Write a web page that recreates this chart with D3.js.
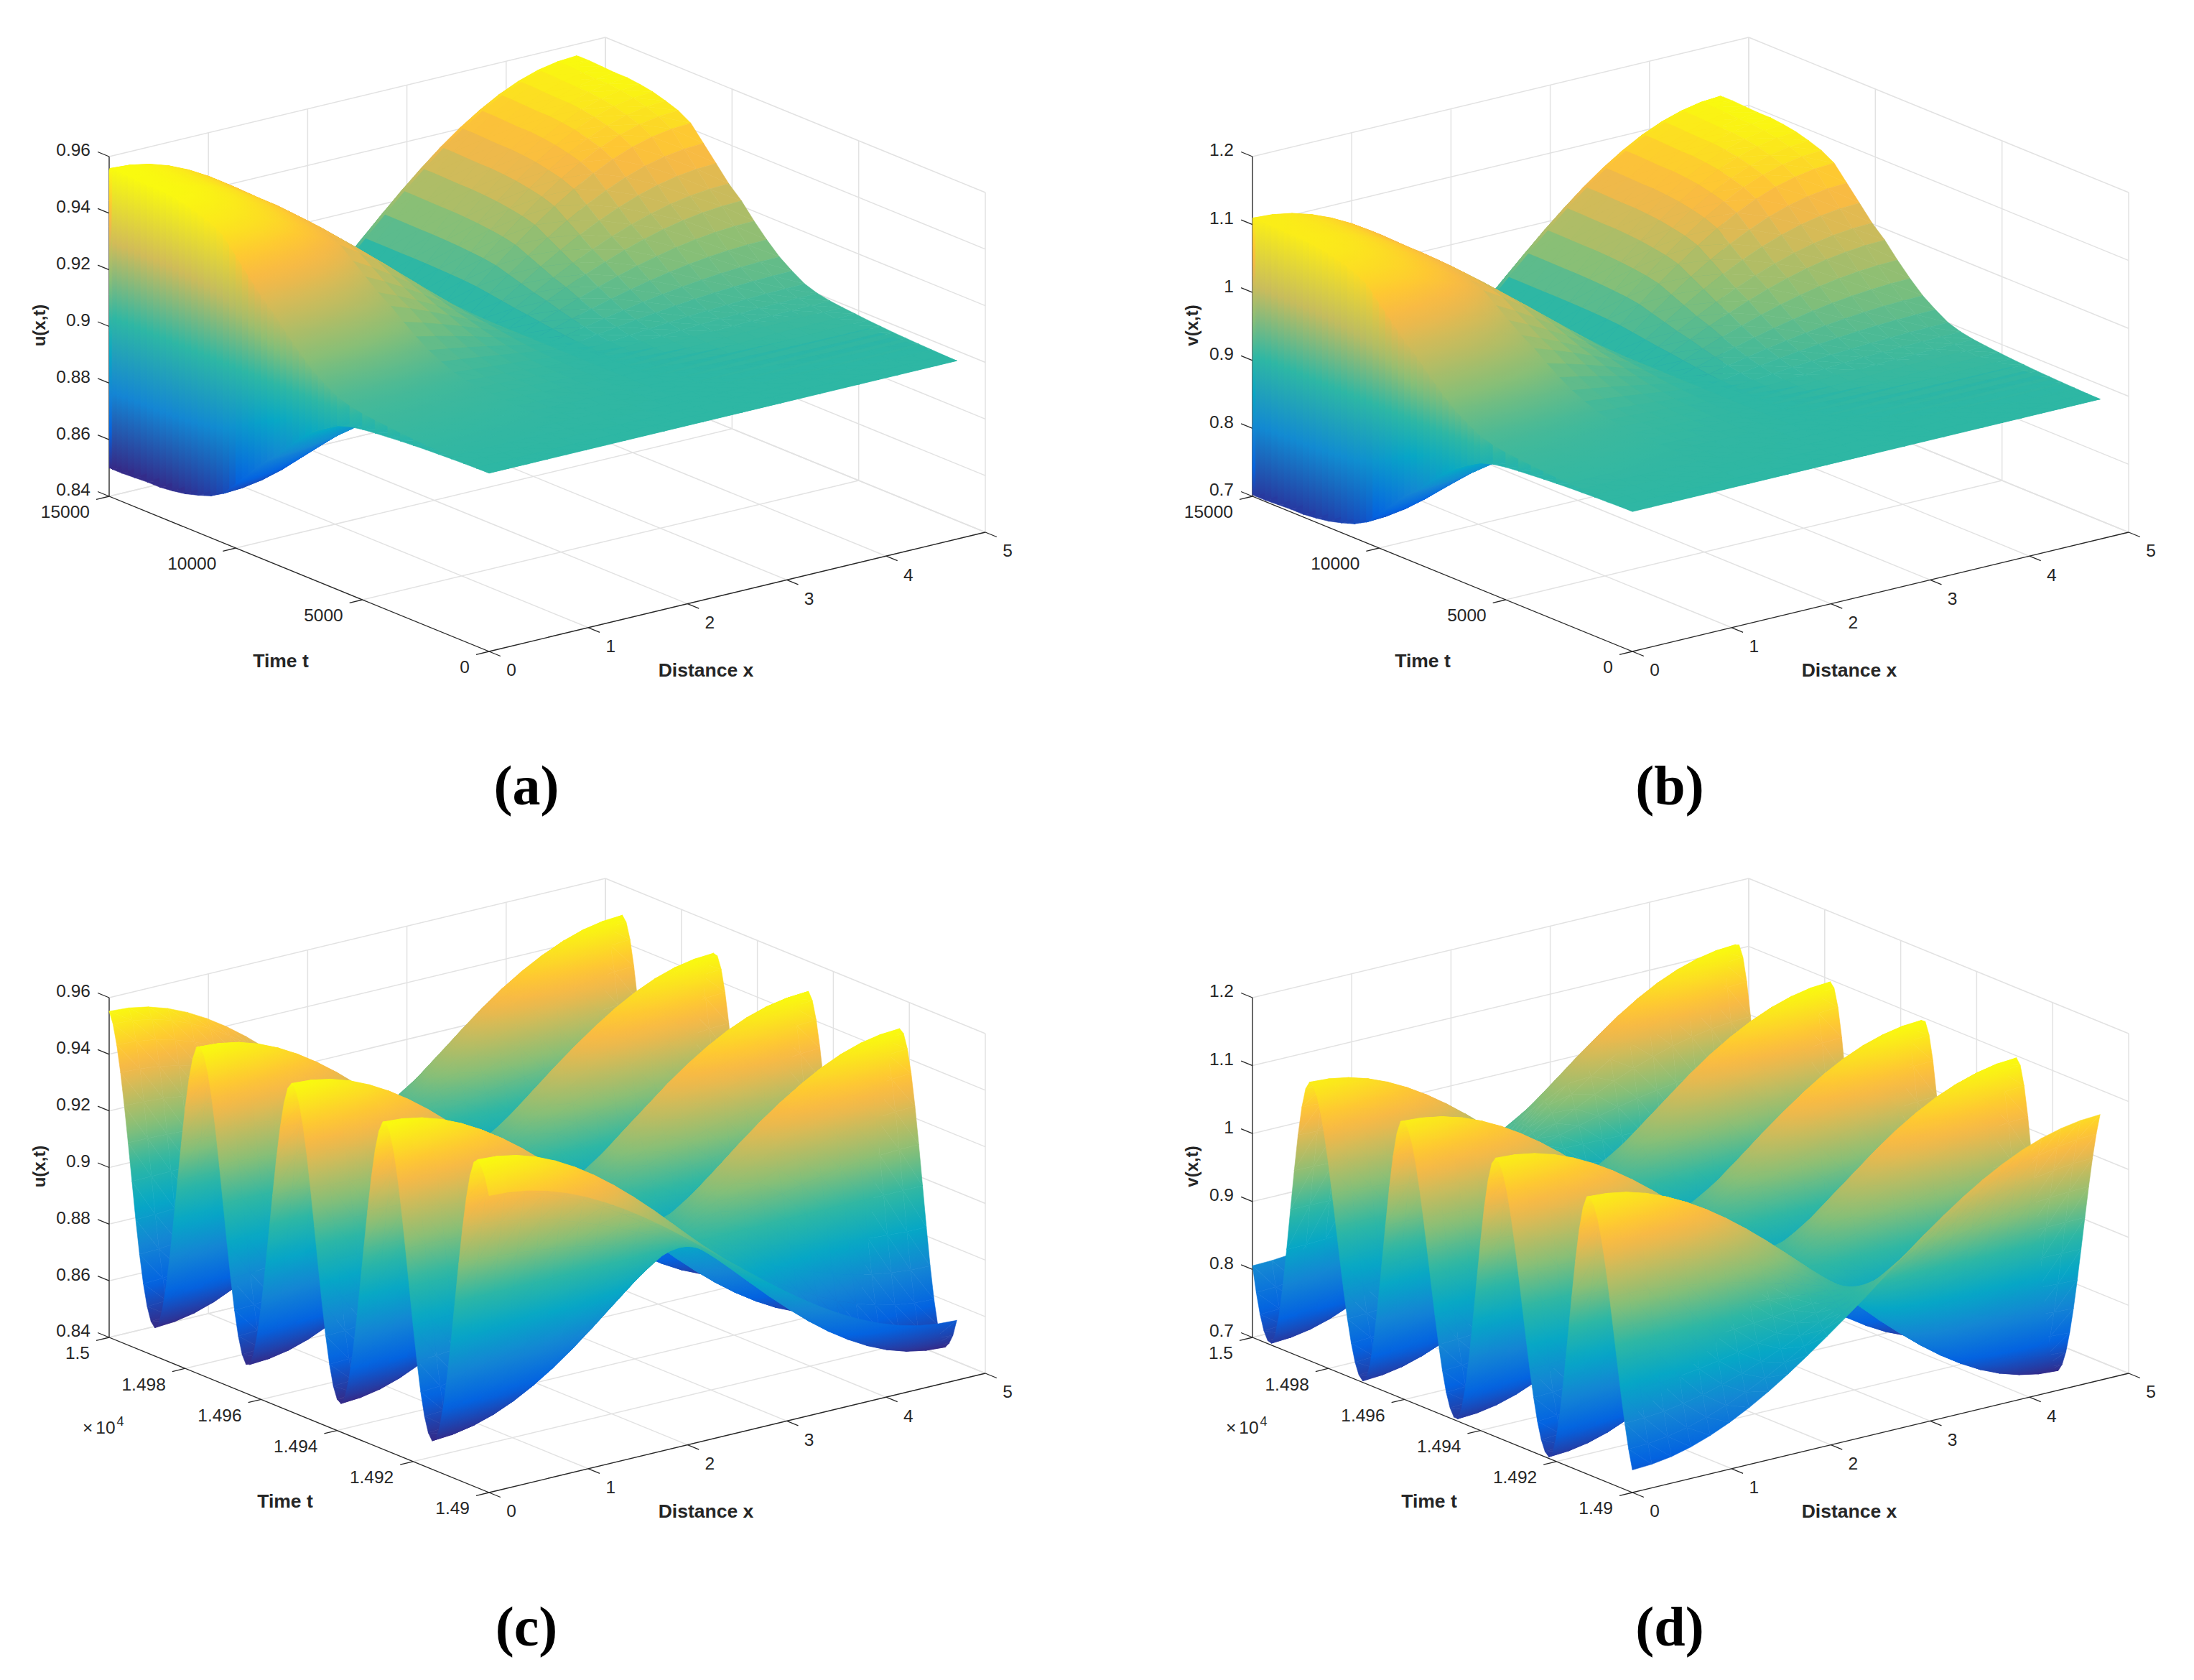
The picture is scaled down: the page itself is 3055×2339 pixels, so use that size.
<!DOCTYPE html>
<html>
<head>
<meta charset="utf-8">
<title>u(x,t) and v(x,t) surfaces</title>
<script src="https://cdnjs.cloudflare.com/ajax/libs/d3/7.8.5/d3.min.js"></script>
<style>
  body { margin: 0; background: #fff; }
  #wrap { position: relative; width: 3055px; height: 2339px; }
  #wrap svg, #wrap canvas { position: absolute; left: 0; top: 0; }
  text { font-family: "Liberation Sans", Arial, sans-serif; fill: #262626; }
</style>
</head>
<body>
<div id="wrap">
  <svg id="axes" width="3055" height="2339"></svg>
  <canvas id="surf" width="3055" height="2339"></canvas>
</div>
<script>
// spatial mesh, and the mode shapes read along a time slice
var meshX = [0, 0.196, 0.393, 0.589, 0.785, 0.982, 1.178, 1.374, 1.571, 1.767, 1.963, 2.16, 2.356,
  2.553, 2.749, 2.945, 3.142, 3.338, 3.534, 3.731, 3.927, 4.123, 4.32, 4.516, 4.712];
var modeU = [1, 0.991, 0.966, 0.924, 0.866, 0.793, 0.707, 0.609, 0.5, 0.383, 0.259, 0.131, 0,
  -0.131, -0.259, -0.383, -0.5, -0.609, -0.707, -0.793, -0.866, -0.924, -0.966, -0.991, -1];
var modeV = [1, 0.991, 0.966, 0.924, 0.866, 0.793, 0.707, 0.609, 0.5, 0.383, 0.259, 0.131, 0,
  -0.14, -0.277, -0.41, -0.535, -0.652, -0.757, -0.849, -0.927, -0.988, -1.032, -1.06, -1.07];

// coarse rows of the long run: the oscillation envelope, read at x=0 (both signs are plotted)
var timeCoarse = [0, 500, 1000, 1500, 2000, 2500, 3000, 3500, 4000, 4500, 5000, 5500, 6000, 6500, 7000,
  7500, 8000, 8500, 9000, 9500, 10000, 10500, 11000, 11500, 12000, 12500, 13000, 13500, 14000, 14500, 14880];
var swingCoarse = [0, -0.002, -0.005, -0.008, -0.012, -0.016, -0.022, -0.028, -0.036, -0.044, -0.054,
  -0.07, -0.098, -0.15, -0.21, -0.29, -0.38, -0.48, -0.56, -0.66, -0.76, -0.86, -0.91, -0.94,
  -0.965, -0.98, -0.99, -0.99, -0.995, -1, -1];

// envelope read between the coarse rows, for the dense low-to-high sheets
var timeSheet = [6250, 6750, 7250, 7750, 8250, 8750, 9250, 9750, 10250, 10750, 11250, 11750, 12250,
  12750, 13250, 13750, 14250, 14690];
var swingSheet = [-0.12, -0.18, -0.25, -0.33, -0.43, -0.52, -0.61, -0.71, -0.81, -0.885, -0.925, -0.95, -0.97,
  -0.985, -0.99, -0.99, -0.995, -1];

// fine rows at the end of the run, 14900..15000 every 1
var timeFine = d3.range(14900, 15001, 1);
var swingC = [0.79, 0.9, 0.963, 0.999, 0.971, 0.873, 0.711, 0.5, 0.252, -0.013,
  -0.278, -0.523, -0.731, -0.885, -0.977, -0.999, -0.956, -0.856, -0.703, -0.508,
  -0.281, -0.037, 0.209, 0.442, 0.648, 0.815, 0.932, 0.992, 0.991, 0.92,
  0.783, 0.59, 0.355, 0.094, -0.174, -0.43, -0.652, -0.83, -0.948, -0.999,
  -0.98, -0.903, -0.769, -0.59, -0.374, -0.136, 0.111, 0.351, 0.57, 0.754,
  0.892, 0.975, 1, 0.957, 0.845, 0.673, 0.453, 0.2, -0.067, -0.329,
  -0.569, -0.766, -0.909, -0.987, -0.995, -0.941, -0.829, -0.667, -0.464, -0.233,
  0.012, 0.257, 0.486, 0.685, 0.842, 0.949, 0.997, 0.982, 0.898, 0.749,
  0.546, 0.304, 0.04, -0.227, -0.478, -0.691, -0.859, -0.964, -1, -0.969,
  -0.879, -0.738, -0.552, -0.331, -0.085, 0.16, 0.396, 0.607, 0.781, 0.911, 0.985];
var swingD = [-0.847, -0.707, -0.532, -0.33, -0.112, 0.112, 0.33, 0.532, 0.707, 0.847,
  0.943, 0.994, 0.989, 0.9, 0.73, 0.495, 0.216, -0.082, -0.374, -0.632,
  -0.832, -0.96, -0.999, -0.972, -0.896, -0.775, -0.614, -0.424, -0.211, 0.011,
  0.233, 0.444, 0.632, 0.789, 0.906, 0.977, 1, 0.951, 0.816, 0.609,
  0.347, 0.053, -0.245, -0.521, -0.75, -0.913, -0.993, -0.991, -0.936, -0.835,
  -0.691, -0.513, -0.309, -0.09, 0.134, 0.351, 0.55, 0.722, 0.859, 0.951,
  0.996, 0.984, 0.887, 0.71, 0.469, 0.187, -0.112, -0.402, -0.655, -0.849,
  -0.968, -0.999, -0.967, -0.886, -0.76, -0.597, -0.404, -0.19, 0.034, 0.255,
  0.464, 0.65, 0.802, 0.916, 0.982, 0.999, 0.941, 0.798, 0.584, 0.317,
  0.023, -0.275, -0.546, -0.77, -0.925, -0.996, -0.988, -0.928, -0.822, -0.675, -0.493];

// steady state and swing size
var uLevel = 0.903, uSwing = 0.053;
var vLevel = 0.906, vSwing = 0.204;

// tick labels
var xTicks = [0, 1, 2, 3, 4, 5];
var uTicks = [0.84, 0.86, 0.88, 0.9, 0.92, 0.94, 0.96];
var uTickLabels = ["0.84", "0.86", "0.88", "0.9", "0.92", "0.94", "0.96"];
var vTicks = [0.7, 0.8, 0.9, 1, 1.1, 1.2];
var vTickLabels = ["0.7", "0.8", "0.9", "1", "1.1", "1.2"];
var longTicks = [0, 5000, 10000, 15000];
var longTickLabels = ["0", "5000", "10000", "15000"];
var shortTicks = [14900, 14920, 14940, 14960, 14980, 15000];
var shortTickLabels = ["1.49", "1.492", "1.494", "1.496", "1.498", "1.5"];

var parulaStops = [0, 0.125, 0.25, 0.375, 0.5, 0.625, 0.75, 0.79, 0.825, 0.875, 1];
var parula = ["#352a87", "#0363e1", "#1485d4", "#06a7c6", "#2eb7a4", "#87bf77", "#d1bb59", "#e9b94e", "#f8ba44", "#fec832", "#f9fb0e"];
var parulaScale = d3.scaleLinear().domain(parulaStops).range(parula).clamp(true);

var svg = d3.select("#axes");
var ctx = document.getElementById("surf").getContext("2d");

var panels = [
  { dx: 0, dy: 0, name: "u(x,t)", cap: "(a)", level: uLevel, size: uSwing, mode: modeU,
    coarseTimes: timeCoarse, coarseSwing: swingCoarse, times: timeFine, swing: swingC,
    zTicks: uTicks, zLabels: uTickLabels, tTicks: longTicks, tLabels: longTickLabels, timeX: 391, timeY: 922 },
  { dx: 1592, dy: 0, name: "v(x,t)", cap: "(b)", level: vLevel, size: vSwing, mode: modeV,
    coarseTimes: timeCoarse, coarseSwing: swingCoarse, times: timeFine, swing: swingD,
    zTicks: vTicks, zLabels: vTickLabels, tTicks: longTicks, tLabels: longTickLabels, timeX: 389, timeY: 922 },
  { dx: 0, dy: 1171, name: "u(x,t)", cap: "(c)", level: uLevel, size: uSwing, mode: modeU,
    coarseTimes: [], coarseSwing: [], times: timeFine, swing: swingC,
    zTicks: uTicks, zLabels: uTickLabels, tTicks: shortTicks, tLabels: shortTickLabels, timeX: 397, timeY: 921, power: true },
  { dx: 1592, dy: 1171, name: "v(x,t)", cap: "(d)", level: vLevel, size: vSwing, mode: modeV,
    coarseTimes: [], coarseSwing: [], times: timeFine, swing: swingD,
    zTicks: vTicks, zLabels: vTickLabels, tTicks: shortTicks, tLabels: shortTickLabels, timeX: 398, timeY: 921, power: true }
];

panels.forEach(drawPanel);

function drawPanel(p) {
  var zDom = d3.extent(p.zTicks);
  var allTimes = p.coarseTimes.concat(p.times);
  var tDom = d3.extent(allTimes);
  // oblique box: three edge vectors from the front floor corner
  var xFrac = d3.scaleLinear().domain([0, 5]).range([0, 1]);
  var tFrac = d3.scaleLinear().domain(tDom).range([0, 1]);
  var zFrac = d3.scaleLinear().domain(zDom).range([0, 1]);
  var ox = 681 + p.dx, oy = 907 + p.dy;

  function proj(x, t, z) {
    var a = xFrac(x), b = tFrac(t), c = zFrac(z);
    return [ox + a * 691 - b * 529, oy - a * 166 - b * 216 - c * 473];
  }

  var g = svg.append("g");

  function line(a, b, cls) {
    g.append("line")
      .attr("x1", a[0]).attr("y1", a[1]).attr("x2", b[0]).attr("y2", b[1])
      .attr("stroke", cls == "grid" ? "#e2e2e2" : "#262626")
      .attr("stroke-width", cls == "grid" ? 1.5 : 1.3);
  }

  var x0 = 0, x1 = 5, t0 = tDom[0], t1 = tDom[1], z0 = zDom[0], z1 = zDom[1];
  var tTick = (t1 - t0) * 0.03, xTick = 0.13;

  // floor and back walls
  xTicks.forEach(function(x) {
    line(proj(x, t0, z0), proj(x, t1, z0), "grid");
    line(proj(x, t1, z0), proj(x, t1, z1), "grid");
  });
  p.tTicks.forEach(function(t) {
    line(proj(x0, t, z0), proj(x1, t, z0), "grid");
    line(proj(x1, t, z0), proj(x1, t, z1), "grid");
  });
  p.zTicks.forEach(function(z) {
    line(proj(x0, t1, z), proj(x1, t1, z), "grid");
    line(proj(x1, t1, z), proj(x1, t0, z), "grid");
  });

  // axis lines and ticks
  line(proj(x0, t1, z0), proj(x0, t1, z1), "axis");
  line(proj(x0, t0, z0), proj(x1, t0, z0), "axis");
  line(proj(x0, t0, z0), proj(x0, t1, z0), "axis");

  p.zTicks.forEach(function(z, i) {
    var a = proj(x0, t1, z);
    line(a, proj(x0, t1 + tTick, z), "axis");
    g.append("text").attr("x", a[0] - 26).attr("y", a[1] - 7)
      .attr("text-anchor", "end").attr("dominant-baseline", "middle")
      .style("font-size", "24.5px").text(p.zLabels[i]);
  });
  xTicks.forEach(function(x) {
    var a = proj(x, t0, z0);
    line(a, proj(x, t0 - tTick, z0), "axis");
    g.append("text").attr("x", a[0] + 31).attr("y", a[1] + 28)
      .attr("text-anchor", "middle").attr("dominant-baseline", "middle")
      .style("font-size", "24.5px").text(x);
  });
  p.tTicks.forEach(function(t, i) {
    var a = proj(x0, t, z0);
    line(a, proj(x0 - xTick, t, z0), "axis");
    g.append("text").attr("x", a[0] - 27).attr("y", a[1] + 24)
      .attr("text-anchor", "end").attr("dominant-baseline", "middle")
      .style("font-size", "24.5px").text(p.tLabels[i]);
  });

  // titles
  g.append("text").attr("x", 983 + p.dx).attr("y", 935 + p.dy)
    .attr("text-anchor", "middle").attr("dominant-baseline", "middle")
    .style("font-size", "26.5px").style("font-weight", "bold").text("Distance x");
  g.append("text").attr("x", p.timeX + p.dx).attr("y", p.timeY + p.dy)
    .attr("text-anchor", "middle").attr("dominant-baseline", "middle")
    .style("font-size", "26.5px").style("font-weight", "bold").text("Time t");
  g.append("text").attr("transform", "translate(" + (p.dx == 0 ? 57 : 1662) + "," + (453 + p.dy) + ") rotate(-90)")
    .attr("text-anchor", "middle").attr("dominant-baseline", "middle")
    .style("font-size", "24px").style("font-weight", "bold").text(p.name);

  if (p.power) {
    var pw = g.append("text").attr("x", 115 + p.dx).attr("y", 1990)
      .attr("dominant-baseline", "middle").style("font-size", "24.5px");
    pw.append("tspan").text("\u00d7");
    pw.append("tspan").attr("dx", 4).text("10");
    pw.append("tspan").attr("dy", -10).attr("dx", 2).style("font-size", "18px").text("4");
  }

  g.append("text").attr("x", 733 + p.dx).attr("y", 1102 + p.dy)
    .attr("text-anchor", "middle").attr("dominant-baseline", "middle")
    .style("font-family", "'Liberation Serif', serif").style("font-weight", "bold")
    .style("fill", "#000").style("font-size", "78px").text(p.cap);

  // surface heights from the read-off mode shape and row swings
  function makeRow(s) {
    return p.mode.map(function(m) { return p.level + p.size * s * m; });
  }
  var fine = p.swing.map(makeRow);
  var coarseA = p.coarseSwing.map(makeRow);
  var coarseB = p.coarseSwing.map(function(s) { return makeRow(-s); });
  var colorNorm = d3.scaleLinear().domain(d3.extent(d3.merge(fine))).range([0, 1]);

  function vert(grid, times, i, j) {
    var z = grid[i][j], s = proj(meshX[j], times[i], z);
    return { x: s[0], y: s[1], z: z };
  }

  function drawRow(grid, times, i, flatFrom, lastJ) {
    for (var j = lastJ - 1; j >= 0; j--) {
      var a = vert(grid, times, i, j), b = vert(grid, times, i, j + 1);
      var c = vert(grid, times, i + 1, j), d = vert(grid, times, i + 1, j + 1);
      var flat = j >= flatFrom ? parulaScale(colorNorm(grid[i][j])) : null;
      tri(d, b, c, colorNorm, flat);
      tri(a, b, c, colorNorm, flat);
    }
  }

  var full = meshX.length - 1;
  // the oscillation sampled at one time sweeps low to high: a sheet over x below the node
  function drawSheet(t, s) {
    drawRow([makeRow(s), makeRow(-s)], [t, t], 0, 99, 12);
  }

  // back to front, so nearer cells cover farther ones
  for (var i = p.times.length - 2; i >= 0; i--) drawRow(fine, p.times, i, 99, full);
  // the fine rows join the long run with one steep cell at its last coarse row
  if (p.coarseTimes.length) {
    var joinTimes = [p.coarseTimes[p.coarseTimes.length - 1], p.times[0]];
    var joinGrid = [coarseA[coarseA.length - 1], fine[0]];
    drawRow(joinGrid, joinTimes, 0, 99, full);
  }
  for (var r = p.coarseTimes.length - 2; r >= 0; r--) {
    drawSheet(p.coarseTimes[r + 1], p.coarseSwing[r + 1]);
    var k = d3.bisectLeft(timeSheet, p.coarseTimes[r]);
    if (k < timeSheet.length && timeSheet[k] < p.coarseTimes[r + 1]) drawSheet(timeSheet[k], swingSheet[k]);
    drawRow(coarseA, p.coarseTimes, r, 12, full);
    drawRow(coarseB, p.coarseTimes, r, 6, full);
  }
}

// colour is a function of height, and height is linear across a triangle,
// so one linear gradient along the height slope shades it exactly
function tri(p, q, r, colorNorm, flat) {
  var area = (q.x - p.x) * (r.y - p.y) - (r.x - p.x) * (q.y - p.y);
  var style = flat;
  if (!style) {
    var lo = [p, q, r].reduce(function(m, v) { return v.z < m.z ? v : m; });
    var hi = [p, q, r].reduce(function(m, v) { return v.z > m.z ? v : m; });
    var dz = hi.z - lo.z;
    var gx = ((q.z - p.z) * (r.y - p.y) - (r.z - p.z) * (q.y - p.y)) / area;
    var gy = ((q.x - p.x) * (r.z - p.z) - (r.x - p.x) * (q.z - p.z)) / area;
    var g2 = gx * gx + gy * gy;
    if (Math.abs(area) < 1e-6 || !(g2 > 0) || colorNorm(hi.z) - colorNorm(lo.z) < 0.002) {
      style = parulaScale(colorNorm((lo.z + hi.z) / 2));
    } else {
      style = ctx.createLinearGradient(lo.x, lo.y, lo.x + gx * dz / g2, lo.y + gy * dz / g2);
      for (var k = 0; k <= 4; k++) {
        style.addColorStop(k / 4, parulaScale(colorNorm(lo.z + dz * k / 4)));
      }
    }
  }
  ctx.beginPath();
  ctx.moveTo(p.x, p.y);
  ctx.lineTo(q.x, q.y);
  ctx.lineTo(r.x, r.y);
  ctx.closePath();
  ctx.fillStyle = style;
  ctx.strokeStyle = style;
  ctx.lineWidth = 0.6;
  ctx.fill();
  ctx.stroke();
}
</script>
</body>
</html>
